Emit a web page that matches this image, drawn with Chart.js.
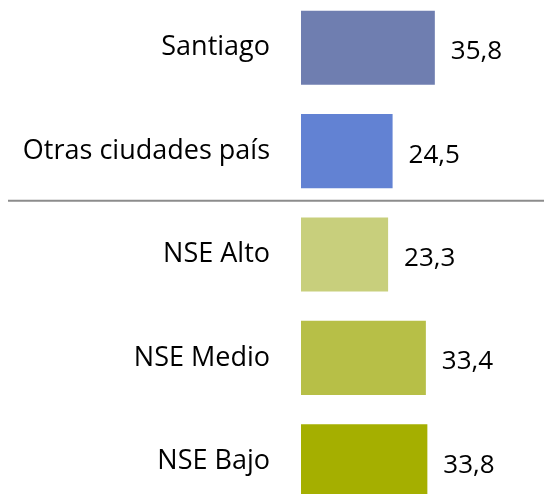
<!DOCTYPE html>
<html>
<head>
<meta charset="utf-8">
<script src="https://cdn.jsdelivr.net/npm/chart.js@4.4.1/dist/chart.umd.min.js"></script>
<style>
  html, body { margin: 0; padding: 0; background: #fff; overflow: hidden; }
  #c { position: absolute; left: 0; top: -4px; }
</style>
</head>
<body>
<canvas id="c" width="544" height="517"></canvas>
<script>
const categories = ["Santiago", "Otras ciudades país", "NSE Alto", "NSE Medio", "NSE Bajo"];
const values = [35.8, 24.5, 23.3, 33.4, 33.8];
const barColors = ["#6F7EB0", "#6282D3", "#C8CF7C", "#B7BF47", "#A5AF00"];
const separatorAfterIndex = 1;

const FONT = "'Open Sans', 'Noto Sans', sans-serif";

const valueLabels = {
  id: 'valueLabels',
  afterDatasetsDraw(chart) {
    const ctx = chart.ctx;
    const meta = chart.getDatasetMeta(0);
    ctx.save();
    ctx.font = "26px " + FONT;
    ctx.fillStyle = "#000";
    ctx.textAlign = "left";
    ctx.textBaseline = "middle";
    meta.data.forEach((bar, i) => {
      const txt = values[i].toFixed(1).replace('.', ',');
      ctx.fillText(txt, bar.x + 16, bar.y + 4);
    });
    ctx.restore();
  }
};

const separator = {
  id: 'separator',
  afterDraw(chart) {
    const y = chart.scales.y;
    const py = (y.getPixelForValue(separatorAfterIndex) + y.getPixelForValue(separatorAfterIndex + 1)) / 2 - 2;
    const ctx = chart.ctx;
    ctx.save();
    ctx.strokeStyle = "#8C8C8C";
    ctx.lineWidth = 2;
    ctx.beginPath();
    ctx.moveTo(8, py);
    ctx.lineTo(chart.width, py);
    ctx.stroke();
    ctx.restore();
  }
};

const chart = new Chart(document.getElementById('c'), {
  type: 'bar',
  data: {
    labels: categories,
    datasets: [{
      data: values,
      backgroundColor: barColors,
      borderWidth: 0,
      categoryPercentage: 0.717,
      barPercentage: 1.0
    }]
  },
  options: {
    indexAxis: 'y',
    responsive: false,
    animation: false,
    layout: { padding: 0 },
    plugins: { legend: { display: false }, tooltip: { enabled: false }, title: { display: false } },
    scales: {
      x: {
        display: false,
        min: 0,
        max: 65
      },
      y: {
        grid: { display: false },
        border: { display: false },
        ticks: {
          color: "#000",
          font: { family: FONT, size: 27 },
          padding: 23
        },
        afterFit(scale) {
          scale.width = 301;
          scale.paddingTop = 0;
          scale.paddingBottom = 0;
        }
      }
    }
  },
  plugins: [valueLabels, separator]
});
</script>
</body>
</html>
